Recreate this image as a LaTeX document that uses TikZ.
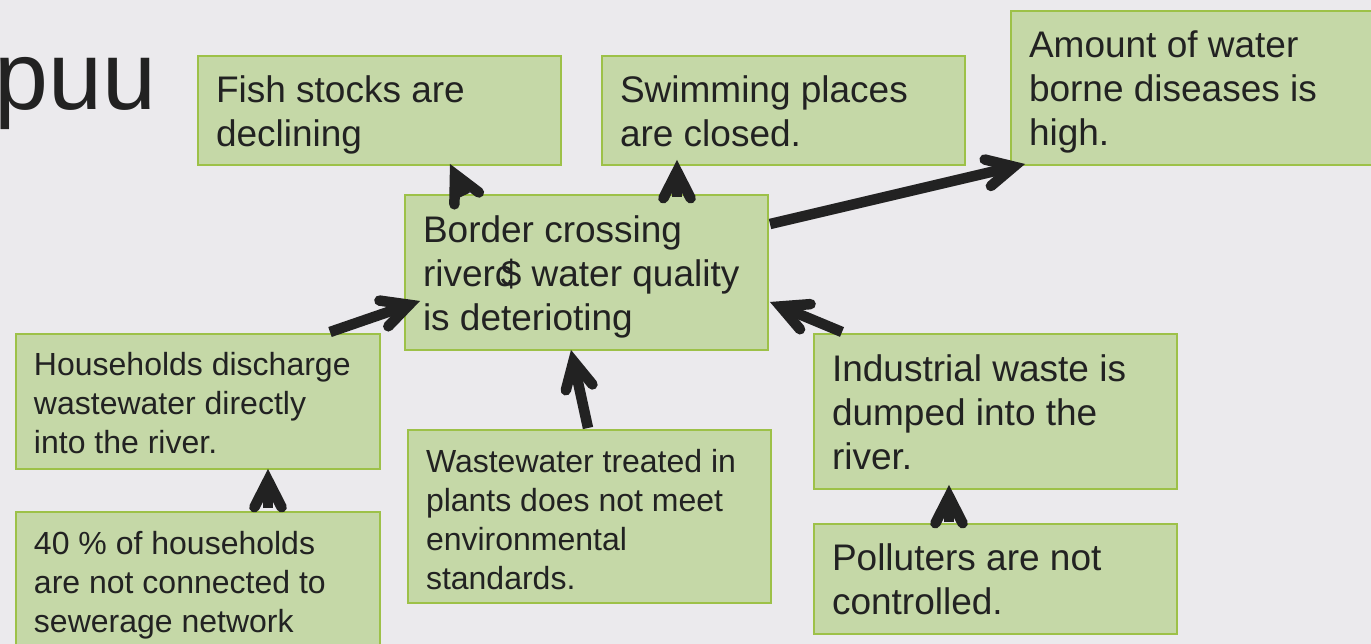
\documentclass[tikz,border=0pt]{standalone}
\usepackage{fontspec}
\setmainfont{Liberation Sans}
\usetikzlibrary{calc}
\definecolor{bgc}{HTML}{EBEAED}
\definecolor{boxfill}{HTML}{C5D8A7}
\definecolor{boxline}{HTML}{9DC148}
\definecolor{ink}{HTML}{222222}
\newcommand\bigtxt{\fontsize{37}{44}\selectfont}
\newcommand\smalltxt{\fontsize{32}{39}\selectfont}
\newcommand\conn[2]{%
  \coordinate (#2-p) at ($(#2)!11.5pt!(#1)$);
  \draw[shaft] (#1) -- (#2-p);
  \fill[ink] (#2-p) -- ($(#2-p)!22pt!27:(#1)$) -- ($(#2-p)!22pt!-27:(#1)$) -- cycle;
  \draw[headline] ($(#2-p)!30pt!27:(#1)$) -- (#2-p) -- ($(#2-p)!30pt!-27:(#1)$);
}
\begin{document}
\begin{tikzpicture}[x=1pt,y=-1pt,
  box/.style={draw=boxline, line width=2pt, fill=boxfill, anchor=north west,
    inner xsep=18pt, inner ysep=0pt, text=ink},
  shaft/.style={draw=ink, line width=10.5pt, line cap=butt},
  headline/.style={draw=ink, line width=10.5pt, line cap=round, line join=miter}]
\useasboundingbox (0,0) rectangle (1371,644);
\clip (0,0) rectangle (1371,644);
\fill[bgc] (0,0) rectangle (1371,644);

\node[anchor=base west, inner sep=0pt, text=ink] (title) at (-6,110)
  {\fontsize{97}{116}\selectfont puu};

\node[box] (fish) at (197,55)
  {\parbox[c][109pt][t]{327pt}{\bigtxt\vspace*{16pt}\strut Fish stocks are\\declining}};
\node[box] (swim) at (601,55)
  {\parbox[c][109pt][t]{327pt}{\bigtxt\vspace*{16pt}\strut Swimming places\\are closed.}};
\node[box] (amount) at (1010,10)
  {\parbox[c][154pt][t]{360pt}{\bigtxt\vspace*{16pt}\strut Amount of water\\borne diseases is\\high.}};
\node[box] (border) at (404,194)
  {\parbox[c][155pt][t]{327pt}{\bigtxt\vspace*{17pt}\strut Border crossing\\river\rlap{c}\kern0.16em\$ water quality\\is deterioting}};
\node[box] (hh) at (15,333)
  {\parbox[c][135pt][t]{328pt}{\smalltxt\vspace*{14pt}\strut Households discharge\\wastewater directly\\into the river.}};
\node[box] (forty) at (15,511)
  {\parbox[c][150pt][t]{328pt}{\smalltxt\vspace*{15pt}\strut 40 \% of households\\are not connected to\\sewerage network}};
\node[box] (waste) at (407,429)
  {\parbox[c][173pt][t]{327pt}{\smalltxt\vspace*{15pt}\strut Wastewater treated in\\plants does not meet\\environmental\\standards.}};
\node[box] (ind) at (813,333)
  {\parbox[c][155pt][t]{327pt}{\bigtxt\vspace*{17pt}\strut Industrial waste is\\dumped into the\\river.}};
\node[box] (poll) at (813,523)
  {\parbox[c][110pt][t]{327pt}{\bigtxt\vspace*{16pt}\strut Polluters are not\\controlled.}};

% connector end points
\coordinate (t1) at (268,508); \coordinate (h1) at (268,469);
\coordinate (t2) at (588,428); \coordinate (h2) at (571,350);
\coordinate (t3) at (949,522); \coordinate (h3) at (949,485);
\coordinate (t4) at (330,332); \coordinate (h4) at (420,301);
\coordinate (t5) at (842,332); \coordinate (h5) at (770,302);
\coordinate (t6) at (465,195); \coordinate (h6) at (450,164);
\coordinate (t7) at (677,197); \coordinate (h7) at (677,160);
\coordinate (t8) at (770,224); \coordinate (h8) at (1025,164);

\conn{t1}{h1}
\conn{t2}{h2}
\conn{t3}{h3}
\conn{t4}{h4}
\conn{t5}{h5}
\conn{t6}{h6}
\conn{t7}{h7}
\conn{t8}{h8}
\end{tikzpicture}
\end{document}
